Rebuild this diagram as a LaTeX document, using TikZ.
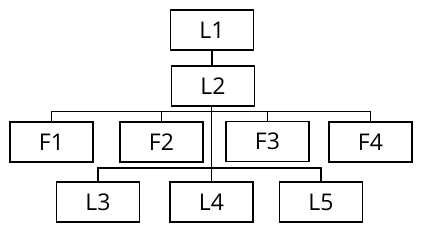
\documentclass[tikz,border=0pt]{standalone}
\usepackage{fontspec}
\setmainfont{Open Sans}
\usetikzlibrary{positioning}
\tikzset{
  box/.style={rectangle, draw=black, fill=white,
    minimum width=83pt, minimum height=40pt, inner sep=0pt,
    line width=1.7pt, font=\fontsize{23}{27}\selectfont},
  line/.style={line width=1.4pt, color=black}
}
\begin{document}
\begin{tikzpicture}[x=1pt, y=-1pt]
  \useasboundingbox (0,0) rectangle (427,230);
  \node[box] (L1) at (212,30) {L1};
  \node[box] (L2) at (213,86) {L2};
  \node[box] (F1) at (51.5,142) {F1};
  \node[box] (F2) at (161.5,142) {F2};
  \node[box] (F3) at (267.5,141.5) {F3};
  \node[box] (F4) at (370.5,142) {F4};
  \node[box] (L3) at (98,202) {L3};
  \node[box] (L4) at (211.5,202) {L4};
  \node[box] (L5) at (321,202) {L5};
  \coordinate (fbus) at (0,111.5);
  \coordinate (lbus) at (0,168);
  \draw[line] (L1.south) -- (L1.south |- L2.north);
  \draw[line] (L4.north |- L2.south) -- (L4.north);
  \draw[line] (F1.north) -- (F1.north |- fbus) -- (F4.north |- fbus) -- (F4.north);
  \draw[line] (F2.north) -- (F2.north |- fbus);
  \draw[line] (F3.north) -- (F3.north |- fbus);
  \draw[line] (L3.north) -- (L3.north |- lbus) -- (L5.north |- lbus) -- (L5.north);
\end{tikzpicture}
\end{document}
